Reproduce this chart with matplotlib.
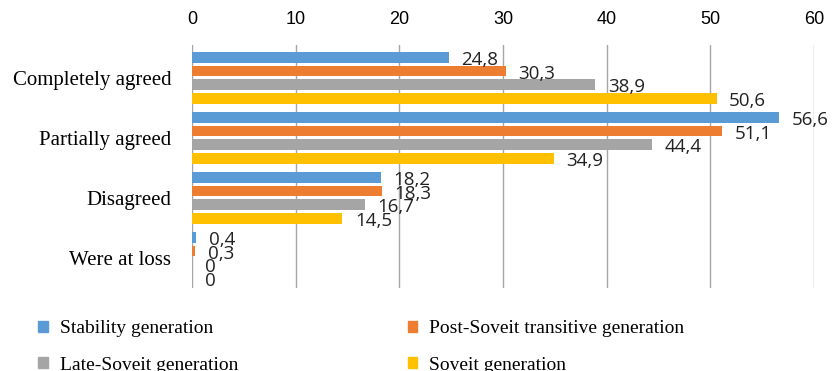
import numpy as np
import matplotlib.pyplot as plt
from matplotlib.patches import Patch

# answers and per-generation shares (%)
categories = ["Completely agreed", "Partially agreed", "Disagreed", "Were at loss"]
series_names = ["Stability generation", "Post-Soveit transitive generation",
                "Late-Soveit generation", "Soveit generation"]
stability = [24.8, 56.6, 18.2, 0.4]
post_soviet = [30.3, 51.1, 18.3, 0.3]
late_soviet = [38.9, 44.4, 16.7, 0]
soviet = [50.6, 34.9, 14.5, 0]
colors = ["#5B9BD5", "#ED7D31", "#A5A5A5", "#FFC000"]
xticks = [0, 10, 20, 30, 40, 50, 60]

series = [stability, post_soviet, late_soviet, soviet]

fig = plt.figure(figsize=(8.32, 3.71), dpi=100)
ax = fig.add_axes([0.2308, 0.224, 0.7476, 0.655])

y = np.arange(len(categories))
step = 0.227
bar_h = 0.175
for i, (vals, col) in enumerate(zip(series, colors)):
    pos = y + (i - 1.5) * step
    ax.barh(pos, vals, height=bar_h, color=col, zorder=3)
    for p, v in zip(pos, vals):
        txt = f"{v:g}".replace(".", ",")
        ax.annotate(txt, (v, p), xytext=(9, -2), textcoords="offset points",
                    ha="left", va="center", fontsize=13.5, family="Open Sans",
                    color="#222222", zorder=4)

ax.set_xlim(0, 60)
ax.set_ylim(3.5, -0.55)
ax.set_xticks(xticks)
ax.xaxis.tick_top()
ax.tick_params(axis="x", length=0, pad=12, labelsize=13)
for lab in ax.get_xticklabels():
    lab.set_family("Liberation Sans")
ax.set_yticks(y)
ax.set_yticklabels(categories, family="Liberation Serif", fontsize=15)
ax.tick_params(axis="y", length=0, pad=15)
ax.grid(axis="x", color="#A6A6A6", linewidth=1.0, zorder=0)
for s in ax.spines.values():
    s.set_visible(False)

handles = [Patch(color=c) for c in colors]
leg_kw = dict(frameon=False, handlelength=0.5, handleheight=0.5, handletextpad=0.6,
              labelspacing=1.0, borderpad=0, borderaxespad=0,
              prop={"family": "Liberation Serif", "size": 14},
              loc="upper left")
leg1 = fig.legend([handles[0], handles[2]], [series_names[0], series_names[2]],
                  bbox_to_anchor=(0.046, 0.137), **leg_kw)
leg2 = fig.legend([handles[1], handles[3]], [series_names[1], series_names[3]],
                  bbox_to_anchor=(0.49, 0.137), **leg_kw)

fig.savefig("out.png", dpi=100)
